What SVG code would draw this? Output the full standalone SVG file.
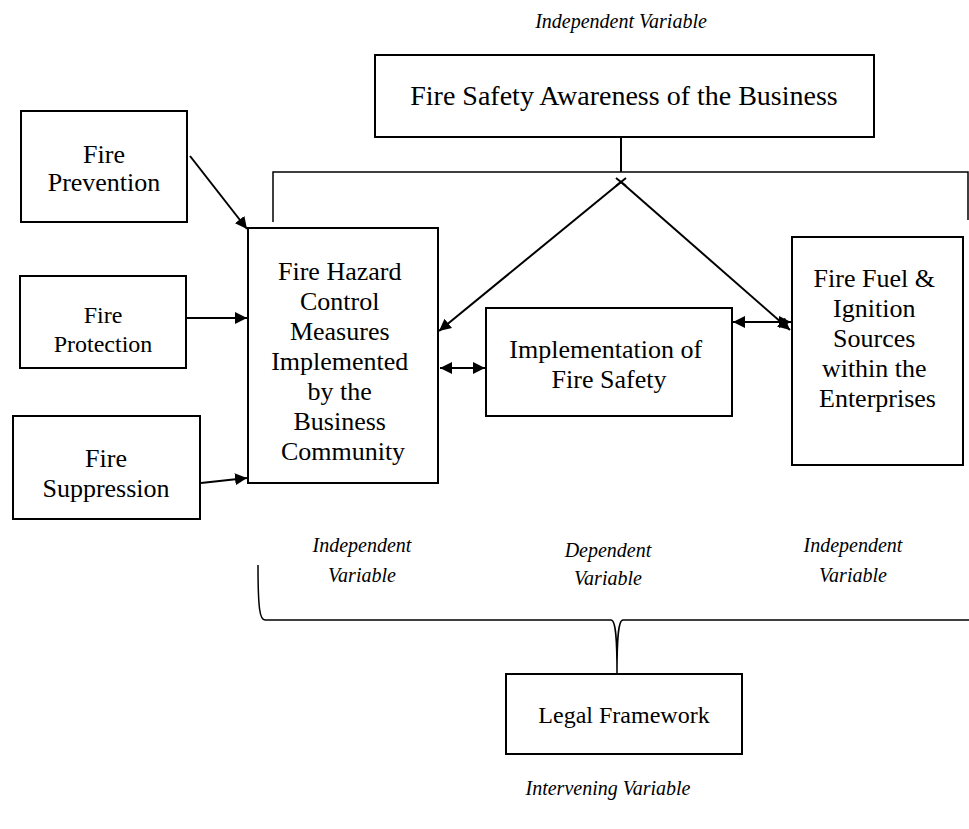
<svg xmlns="http://www.w3.org/2000/svg" width="969" height="829" viewBox="0 0 969 829">
<defs>
<style>
.box{fill:#fff;stroke:#000;stroke-width:2}
.t{font-family:"Liberation Serif","Times New Roman",serif;fill:#000;text-anchor:middle}
.it{font-family:"Liberation Serif","Times New Roman",serif;font-style:italic;fill:#000;text-anchor:middle;font-size:20px}
.ln{fill:none;stroke:#000;stroke-width:2}
.thin{fill:none;stroke:#000;stroke-width:1.5}
</style>
<marker id="ah" viewBox="0 0 10 10" refX="10" refY="5" markerWidth="6" markerHeight="6" markerUnits="strokeWidth" orient="auto-start-reverse">
<path d="M0,0 L10,5 L0,10 z" fill="#000"/>
</marker>
</defs>
<rect width="969" height="829" fill="#fff"/>

<text class="it" x="621" y="28">Independent Variable</text>

<g id="awareness">
<rect class="box" x="375" y="55" width="499" height="82"/>
<text class="t" x="624" y="105" font-size="28">Fire Safety Awareness of the Business</text>
</g>

<g id="prevention">
<rect class="box" x="21" y="111" width="166" height="111"/>
<text class="t" x="104" y="163" font-size="26">Fire</text>
<text class="t" x="104" y="191" font-size="26">Prevention</text>
</g>

<g id="protection">
<rect class="box" x="20" y="276" width="166" height="92"/>
<text class="t" x="103" y="323" font-size="24">Fire</text>
<text class="t" x="103" y="352" font-size="24">Protection</text>
</g>

<g id="suppression">
<rect class="box" x="13" y="416" width="187" height="103"/>
<text class="t" x="106" y="467" font-size="26">Fire</text>
<text class="t" x="106" y="497" font-size="26">Suppression</text>
</g>

<g id="hazard">
<rect class="box" x="248" y="228" width="190" height="255"/>
<text class="t" font-size="26">
<tspan x="343" y="280">Fire Hazard</tspan>
<tspan x="343" y="310">Control</tspan>
<tspan x="343" y="340">Measures</tspan>
<tspan x="343" y="370">Implemented</tspan>
<tspan x="343" y="400">by the</tspan>
<tspan x="343" y="430">Business</tspan>
<tspan x="343" y="460">Community</tspan>
</text>
</g>

<g id="implementation">
<rect class="box" x="486" y="308" width="246" height="108"/>
<text class="t" font-size="26">
<tspan x="609" y="358">Implementation of</tspan>
<tspan x="609" y="388">Fire Safety</tspan>
</text>
</g>

<g id="fuel">
<rect class="box" x="792" y="237" width="171" height="228"/>
<text class="t" font-size="26">
<tspan x="877.5" y="287">Fire Fuel &amp;</tspan>
<tspan x="877.5" y="317">Ignition</tspan>
<tspan x="877.5" y="347">Sources</tspan>
<tspan x="877.5" y="377">within the</tspan>
<tspan x="877.5" y="407">Enterprises</tspan>
</text>
</g>

<g id="legal">
<rect class="box" x="506" y="674" width="236" height="80"/>
<text class="t" x="624" y="723" font-size="24">Legal Framework</text>
</g>

<g id="labels">
<text class="it"><tspan x="362" y="552">Independent</tspan><tspan x="362" y="582">Variable</tspan></text>
<text class="it"><tspan x="608" y="557">Dependent</tspan><tspan x="608" y="585">Variable</tspan></text>
<text class="it"><tspan x="853" y="552">Independent</tspan><tspan x="853" y="582">Variable</tspan></text>
<text class="it" x="608" y="795">Intervening Variable</text>
</g>

<g id="connectors">
<line class="ln" x1="621" y1="137" x2="621" y2="172"/>
<polyline class="thin" points="273,222 273,172 968,172 968,220"/>
<path class="ln" d="M616,178 L626,186 M626,178 L616,186"/>
<line class="ln" x1="621" y1="182" x2="439" y2="331" marker-end="url(#ah)"/>
<line class="ln" x1="621" y1="182" x2="790" y2="330" marker-end="url(#ah)"/>
<line class="ln" x1="190" y1="156" x2="247" y2="229" marker-end="url(#ah)"/>
<line class="ln" x1="186" y1="318" x2="247" y2="318" marker-end="url(#ah)"/>
<line class="ln" x1="201" y1="483" x2="247" y2="478" marker-end="url(#ah)"/>
<line class="ln" x1="440" y1="368" x2="485" y2="368" marker-start="url(#ah)" marker-end="url(#ah)"/>
<line class="ln" x1="733" y1="322" x2="791" y2="322" marker-start="url(#ah)" marker-end="url(#ah)"/>
<path class="thin" d="M258,565 C258,610 260,620 265,620 L611,620 C616,620 617,640 617,674 C617,640 618,620 623,620 L969,620"/>
</g>
</svg>
